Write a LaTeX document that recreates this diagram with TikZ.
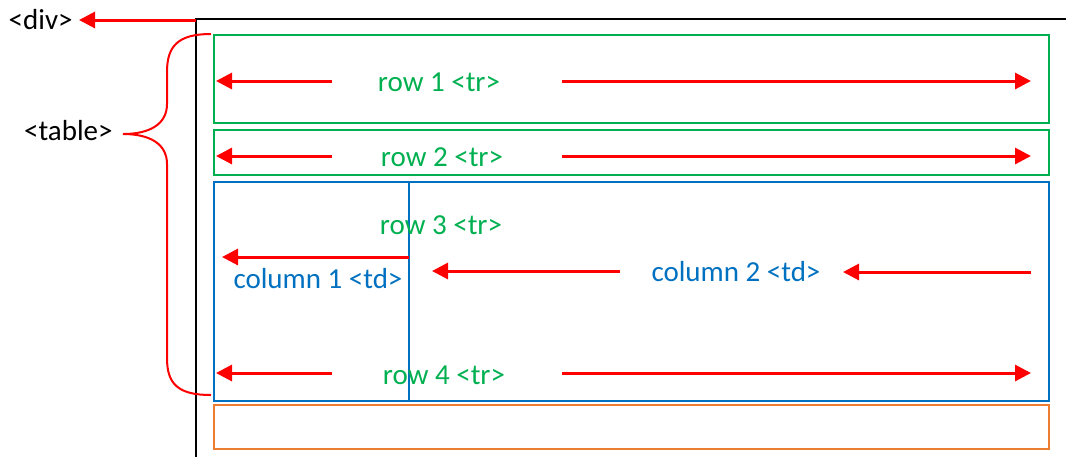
\documentclass[tikz,border=0pt]{standalone}
\usepackage{fontspec}
\setmainfont{Carlito}
\usetikzlibrary{arrows.meta}
\definecolor{rowgreen}{RGB}{0,176,80}
\definecolor{colblue}{RGB}{0,112,192}
\definecolor{footorange}{RGB}{237,125,49}
\tikzset{
  tag/.style={font=\fontsize{14.5}{17}\selectfont,inner sep=0pt},
  redarrow/.style={draw=red,line width=1.5pt,-{Triangle[length=8pt,width=8pt]}},
}
\begin{document}
\begin{tikzpicture}[x=0.5pt,y=-0.5pt]
  \useasboundingbox (0,0) rectangle (1066,457);
  % the div
  \draw[line width=1pt] (1066,19) -- (196,19) -- (196,457);
  \node[tag,anchor=east] (div) at (73,20) {<div>};
  \coordinate (divstart) at (196,20);
  \draw[redarrow] (divstart) -- (div.east -| 79,0);
  % the rows
  \draw[draw=rowgreen,line width=1pt] (214,35) rectangle (1049,123);
  \draw[draw=rowgreen,line width=1pt] (214,130) rectangle (1049,175);
  \draw[draw=colblue,line width=1pt] (214,182) rectangle (1049,401);
  \draw[draw=colblue,line width=1pt] (409,182) -- (409,401);
  \draw[draw=footorange,line width=1pt] (214,405) rectangle (1049,449);
  \node[tag,text=rowgreen] (row1) at (439,82) {row 1 <tr>};
  \node[tag,text=rowgreen] (row2) at (442,157) {row 2 <tr>};
  \node[tag,text=rowgreen] (row3) at (441,225) {row 3 <tr>};
  \node[tag,text=rowgreen] (row4) at (444,375) {row 4 <tr>};
  \node[tag,text=colblue] (col1) at (318,279) {column 1 <td>};
  \node[tag,text=colblue] (col2) at (736,272) {column 2 <td>};
  % arrows across the rows
  \coordinate (r1a) at (332,81);  \coordinate (r1b) at (216,81);
  \coordinate (r1c) at (562,81);  \coordinate (r1d) at (1031,81);
  \coordinate (r2a) at (332,156); \coordinate (r2b) at (216,156);
  \coordinate (r2c) at (562,156); \coordinate (r2d) at (1031,156);
  \coordinate (r4a) at (332,373); \coordinate (r4b) at (216,373);
  \coordinate (r4c) at (562,373); \coordinate (r4d) at (1031,373);
  \draw[redarrow] (r1a) -- (r1b);
  \draw[redarrow] (r1c) -- (r1d);
  \draw[redarrow] (r2a) -- (r2b);
  \draw[redarrow] (r2c) -- (r2d);
  \draw[redarrow] (r4a) -- (r4b);
  \draw[redarrow] (r4c) -- (r4d);
  % arrows across the columns
  \coordinate (c1a) at (409,257); \coordinate (c1b) at (222,257);
  \coordinate (c2a) at (620,271); \coordinate (c2b) at (432,271);
  \coordinate (c2c) at (1031,272); \coordinate (c2d) at (843,272);
  \draw[redarrow] (c1a) -- (c1b);
  \draw[redarrow] (c2a) -- (c2b);
  \draw[redarrow] (c2c) -- (c2d);
  % the table brace
  \node[tag,anchor=east] (table) at (113,131) {<table>};
  \coordinate (bracetop) at (211,34);
  \coordinate (bracetip) at (123,134);
  \coordinate (bracebot) at (211,395);
  \draw[red,line width=1pt] (bracetop) .. controls (178,34) and (167,46) .. (167,72)
    -- (167,104) .. controls (167,124) and (150,134) .. (bracetip)
    .. controls (150,134) and (167,144) .. (167,164)
    -- (167,358) .. controls (167,384) and (178,395) .. (bracebot);
\end{tikzpicture}
\end{document}
